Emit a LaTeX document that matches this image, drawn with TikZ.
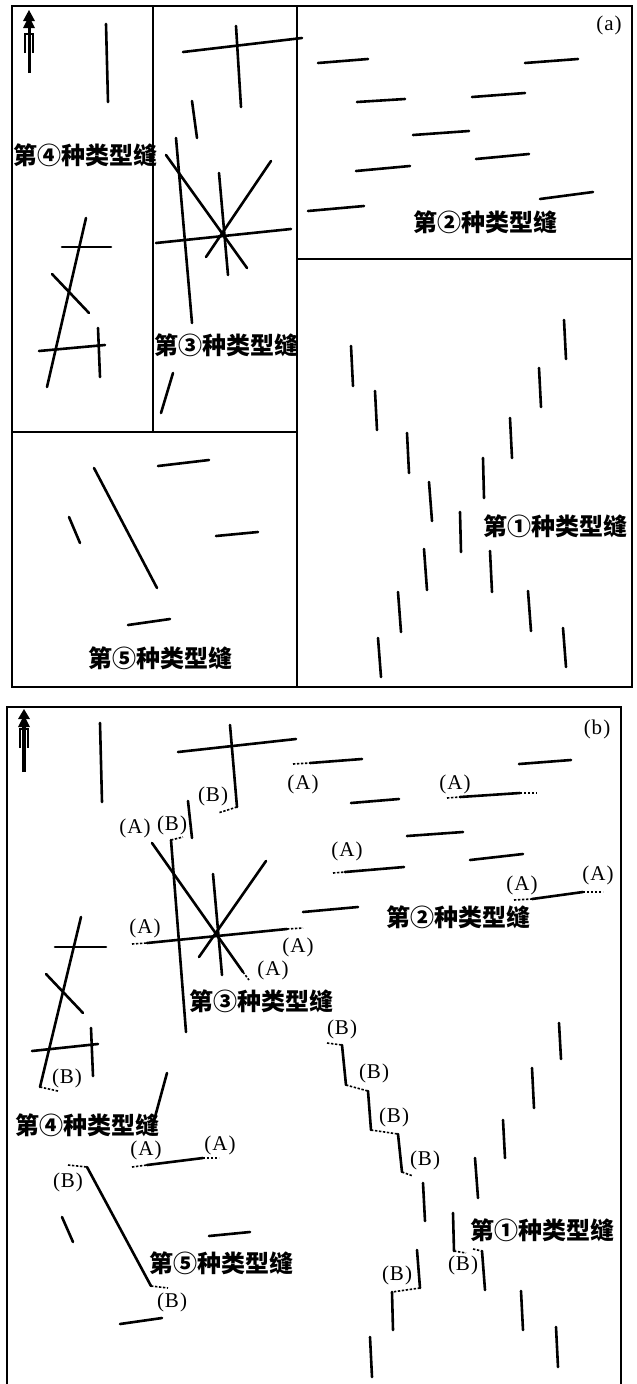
\documentclass[tikz,border=0pt]{standalone}
\usepackage{fontspec}
\setmainfont{Liberation Serif}
\newfontfamily\cjkfont{Noto Sans CJK SC}
\usetikzlibrary{arrows.meta}
\newcommand\lbl[1]{(\kern1pt#1\kern1pt)}
\tikzset{
  frac/.style={line width=2.6pt, line cap=round},
  frm/.style={line width=1.2pt},
  ext/.style={line width=1.6pt, dash pattern=on 2.4pt off 1.6pt},
  lab/.style={font=\fontsize{21}{21}\selectfont, inner sep=0pt},
  typ/.style={font=\cjkfont\bfseries\fontsize{24}{24}\selectfont, inner sep=0pt},
}
\begin{document}
\begin{tikzpicture}[x=1pt,y=-1pt]
\useasboundingbox (0,0) rectangle (637,1384);
\fill[white] (0,0) rectangle (637,1384);
% ================= panel (a) =================
\draw[frm] (12,6) rectangle (632,687);
\draw[frm] (153,6) -- (153,432);
\draw[frm] (297,6) -- (297,687);
\draw[frm] (12,432) -- (297,432);
\draw[frm] (297,259) -- (632,259);
% north arrow (a)
\draw[line width=3pt] (29,73) -- (29,24);
\fill (29,10) -- (23,21) -- (35,21) -- cycle;
\fill (29,16) -- (23,28) -- (35,28) -- cycle;
\draw[line width=1.6pt] (25,53) -- (25,34) -- (33,34) -- (33,53);
\node[lab] (la) at (609,25) {\lbl{a}};
% type 4 region
\draw[frac] (106,24) -- (108,102);
\draw[frac] (86,218) -- (47,387);
\draw[frac] (62,247) -- (111,247);
\draw[frac] (52,274) -- (89,313);
\draw[frac] (39,351) -- (105,345);
\draw[frac] (98,328) -- (100,377);
% type 3 region
\draw[frac] (183,52) -- (302,38);
\draw[frac] (236,26) -- (241,107);
\draw[frac] (192,101) -- (197,138);
\draw[frac] (176,138) -- (192,323);
\draw[frac] (166,155) -- (247,268);
\draw[frac] (271,161) -- (206,257);
\draw[frac] (219,173) -- (228,275);
\draw[frac] (156,243) -- (291,229);
\draw[frac] (173,373) -- (161,413);
% type 2 region
\draw[frac] (318,63) -- (368,59);
\draw[frac] (525,63) -- (578,59);
\draw[frac] (357,102) -- (405,99);
\draw[frac] (472,97) -- (525,93);
\draw[frac] (413,135) -- (469,131);
\draw[frac] (476,159) -- (529,154);
\draw[frac] (356,171) -- (410,166);
\draw[frac] (308,211) -- (364,206);
\draw[frac] (540,199) -- (593,192);
% type 1 region
\draw[frac] (351,346) -- (353,386);
\draw[frac] (564,320) -- (566,359);
\draw[frac] (375,391) -- (377,430);
\draw[frac] (539,368) -- (541,407);
\draw[frac] (407,433) -- (409,473);
\draw[frac] (510,418) -- (512,458);
\draw[frac] (483,458) -- (484,498);
\draw[frac] (429,482) -- (432,521);
\draw[frac] (460,512) -- (461,552);
\draw[frac] (424,549) -- (427,590);
\draw[frac] (490,551) -- (492,592);
\draw[frac] (398,592) -- (401,632);
\draw[frac] (528,591) -- (531,631);
\draw[frac] (378,638) -- (381,677);
\draw[frac] (563,628) -- (566,667);
% type 5 region
\draw[frac] (158,466) -- (209,460);
\draw[frac] (94,468) -- (157,588);
\draw[frac] (69,517) -- (80,543);
\draw[frac] (216,536) -- (258,532);
\draw[frac] (128,625) -- (170,619);
% labels (a)
\node[typ] (a4) at (85,155) {第④种类型缝};
\node[typ] (a3) at (226,345) {第③种类型缝};
\node[typ] (a2) at (485,222) {第②种类型缝};
\node[typ] (a5) at (160,658) {第⑤种类型缝};
\node[typ] (a1) at (555,526) {第①种类型缝};
% ================= panel (b) =================
\draw[frm] (7,1390) -- (7,707) -- (621,707) -- (621,1390);
% north arrow (b)
\draw[line width=3.8pt] (24,772) -- (24,722);
\fill (24,709) -- (18,719) -- (30,719) -- cycle;
\fill (24,715) -- (18,727) -- (30,727) -- cycle;
\draw[line width=1.8pt] (20,748) -- (20,729) -- (28,729) -- (28,748);
\node[lab] (lb) at (597,729) {\lbl{b}};
% type 4 / type 3 area
\draw[frac] (100,723) -- (102,802);
\draw[frac] (178,752) -- (296,739);
\draw[frac] (230,725) -- (237,807);
\draw[ext] (237,807) -- (218,813);
\node[lab] (b3b1) at (213,796) {\lbl{B}};
\draw[frac] (188,801) -- (192,838);
\draw[frac] (171,840) -- (186,1032);
\draw[ext] (171,840) -- (183,837);
\node[lab] (b3a1) at (135,828) {\lbl{A}};
\node[lab] (b3b2) at (172,825) {\lbl{B}};
\draw[frac] (152,843) -- (243,972);
\draw[ext] (243,972) -- (249,980);
\node[lab] (b3a2) at (273,970) {\lbl{A}};
\draw[frac] (266,861) -- (199,957);
\draw[frac] (213,874) -- (222,975);
\draw[ext] (132,944) -- (147,943);
\draw[frac] (147,943) -- (287,929);
\draw[ext] (287,929) -- (303,928);
\node[lab] (b3a3) at (145,928) {\lbl{A}};
\node[lab] (b3a4) at (298,947) {\lbl{A}};
% type 4
\draw[frac] (81,917) -- (40,1087);
\draw[ext] (40,1087) -- (58,1091);
\node[lab] (b4b) at (67,1078) {\lbl{B}};
\draw[frac] (55,947) -- (106,947);
\draw[frac] (46,974) -- (83,1013);
\draw[frac] (32,1051) -- (98,1044);
\draw[frac] (91,1028) -- (93,1076);
\draw[frac] (167,1073) -- (152,1128);
% A line near type 5
\draw[ext] (132,1167) -- (147,1165);
\draw[frac] (147,1165) -- (203,1158);
\draw[ext] (203,1158) -- (219,1158);
\node[lab] (b5a1) at (146,1150) {\lbl{A}};
\node[lab] (b5a2) at (220,1145) {\lbl{A}};
% type 5
\draw[ext] (68,1165) -- (87,1167);
\draw[frac] (87,1167) -- (151,1286);
\draw[ext] (151,1286) -- (168,1288);
\node[lab] (b5b1) at (68,1182) {\lbl{B}};
\node[lab] (b5b2) at (172,1302) {\lbl{B}};
\draw[frac] (62,1217) -- (73,1242);
\draw[frac] (209,1236) -- (250,1232);
\draw[frac] (120,1324) -- (162,1318);
% type 2
\draw[ext] (293,764) -- (310,763);
\draw[frac] (310,763) -- (362,759);
\node[lab] (b2a1) at (303,784) {\lbl{A}};
\draw[frac] (351,803) -- (399,799);
\draw[ext] (447,798) -- (460,797);
\draw[frac] (460,797) -- (520,793);
\draw[ext] (520,793) -- (537,793);
\node[lab] (b2a2) at (455,784) {\lbl{A}};
\draw[frac] (519,764) -- (571,760);
\draw[frac] (407,836) -- (463,832);
\draw[ext] (333,873) -- (345,872);
\draw[frac] (345,872) -- (404,867);
\node[lab] (b2a3) at (347,851) {\lbl{A}};
\draw[frac] (470,860) -- (523,854);
\draw[frac] (303,912) -- (358,907);
\draw[ext] (514,900) -- (532,899);
\draw[frac] (532,899) -- (583,892);
\draw[ext] (583,892) -- (603,892);
\node[lab] (b2a4) at (522,885) {\lbl{A}};
\node[lab] (b2a5) at (598,875) {\lbl{A}};
% type 1
\draw[ext] (327,1043) -- (342,1045);
\draw[frac] (342,1045) -- (346,1085);
\node[lab] (b1b1) at (342,1029) {\lbl{B}};
\draw[ext] (346,1085) -- (368,1091);
\draw[frac] (368,1091) -- (371,1130);
\node[lab] (b1b2) at (374,1073) {\lbl{B}};
\draw[ext] (371,1130) -- (398,1134);
\draw[frac] (398,1134) -- (402,1172);
\node[lab] (b1b3) at (394,1117) {\lbl{B}};
\draw[ext] (402,1172) -- (413,1176);
\node[lab] (b1b4) at (425,1160) {\lbl{B}};
\draw[frac] (423,1183) -- (425,1221);
\draw[frac] (453,1213) -- (454,1251);
\draw[ext] (454,1251) -- (466,1253);
\draw[ext] (473,1249) -- (482,1251);
\draw[frac] (482,1251) -- (485,1290);
\node[lab] (b1b5) at (463,1265) {\lbl{B}};
\draw[frac] (417,1250) -- (420,1288);
\draw[ext] (420,1288) -- (392,1292);
\draw[frac] (392,1292) -- (393,1330);
\node[lab] (b1b6) at (397,1275) {\lbl{B}};
\draw[frac] (475,1158) -- (478,1198);
\draw[frac] (503,1120) -- (505,1158);
\draw[frac] (532,1068) -- (534,1108);
\draw[frac] (559,1023) -- (561,1059);
\draw[frac] (521,1291) -- (523,1330);
\draw[frac] (556,1327) -- (558,1367);
\draw[frac] (370,1337) -- (372,1377);
% labels (b)
\node[typ] (b4) at (88,1125) {第④种类型缝};
\node[typ] (b3) at (261,1001) {第③种类型缝};
\node[typ] (b2) at (458,917) {第②种类型缝};
\node[typ] (b5) at (221,1263) {第⑤种类型缝};
\node[typ] (b1) at (542,1230) {第①种类型缝};
\end{tikzpicture}
\end{document}
